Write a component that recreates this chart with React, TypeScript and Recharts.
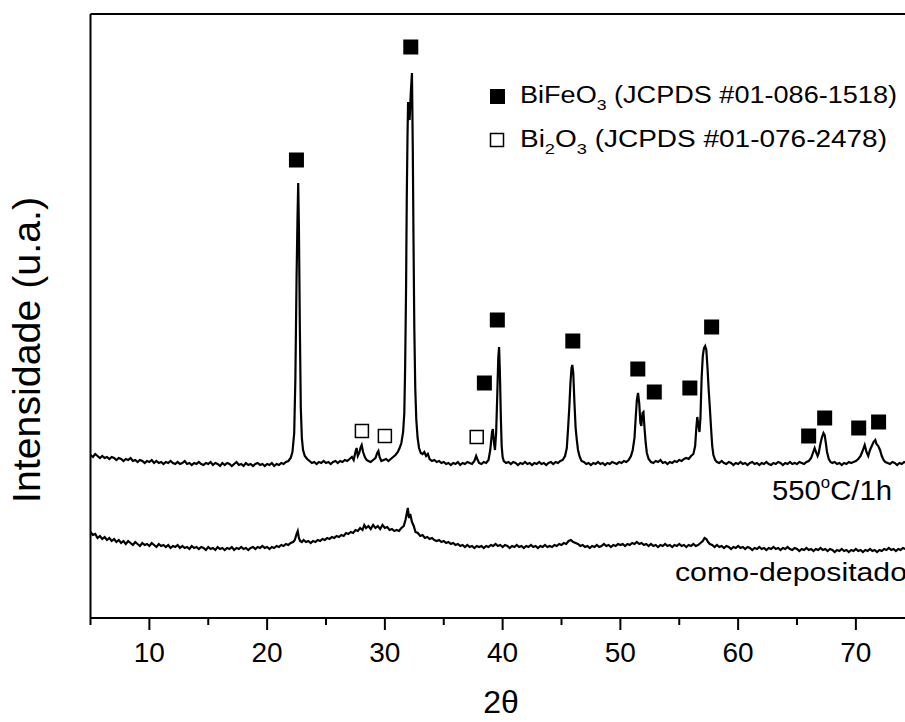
import React from 'react'
import { ComposedChart, Line, Scatter, XAxis, YAxis, ReferenceLine } from 'recharts'

// 2θ (deg) vs intensity (a.u.)
const annealed: [number, number][] = [
  [5.0,163],[5.2,161],[5.4,164],[5.6,162],[5.8,160],[6.0,162],[6.2,160],[6.4,161],[6.6,159],[6.8,161],
  [7.0,160],[7.2,158],[7.4,160],[7.6,159],[7.8,157],[8.0,159],[8.2,158],[8.4,160],[8.6,157],[8.8,158],
  [9.0,156],[9.2,158],[9.4,157],[9.6,155],[9.8,157],[10.0,156],[10.2,158],[10.4,155],[10.6,157],[10.8,155],
  [11.0,156],[11.2,154],[11.4,156],[11.6,155],[11.8,157],[12.0,155],[12.2,154],[12.4,156],[12.6,154],[12.8,155],
  [13.0,157],[13.2,154],[13.4,155],[13.6,153],[13.8,155],[14.0,154],[14.2,156],[14.4,154],[14.6,153],[14.8,155],
  [15.0,154],[15.2,156],[15.4,153],[15.6,155],[15.8,154],[16.0,152],[16.2,155],[16.4,153],[16.6,155],[16.8,154],
  [17.0,152],[17.2,154],[17.4,156],[17.6,153],[17.8,154],[18.0,152],[18.2,155],[18.4,153],[18.6,154],[18.8,152],
  [19.0,154],[19.2,155],[19.4,153],[19.6,154],[19.8,152],[20.0,154],[20.2,153],[20.4,155],[20.6,152],[20.8,154],
  [21.0,153],[21.2,155],[21.4,154],[21.6,156],[21.8,157],[22.0,160],[22.15,166],[22.3,185],[22.4,240],[22.5,340],
  [22.58,400],[22.64,435],[22.7,390],[22.78,290],[22.86,210],[22.95,180],[23.05,168],[23.2,162],[23.4,159],[23.6,157],
  [23.8,155],[24.0,156],[24.2,154],[24.4,156],[24.6,155],[24.8,157],[25.0,155],[25.2,156],[25.4,154],[25.6,156],
  [25.8,157],[26.0,155],[26.2,157],[26.4,156],[26.6,158],[26.8,157],[27.0,159],[27.2,161],[27.35,158],[27.5,166],
  [27.6,170],[27.7,162],[27.82,165],[27.95,171],[28.03,173],[28.15,166],[28.3,161],[28.45,158],[28.6,157],[28.8,156],
  [29.0,158],[29.2,160],[29.35,165],[29.45,167],[29.55,161],[29.7,157],[29.9,158],[30.1,159],[30.3,157],[30.5,159],
  [30.7,161],[30.9,163],[31.1,166],[31.25,170],[31.4,175],[31.55,186],[31.65,205],[31.72,250],[31.8,330],[31.86,420],
  [31.92,480],[31.97,516],[32.03,505],[32.1,498],[32.2,525],[32.3,545],[32.37,470],[32.43,380],[32.5,290],[32.58,230],
  [32.67,198],[32.78,180],[32.9,170],[33.05,165],[33.2,164],[33.35,166],[33.5,162],[33.65,164],[33.8,159],[34.0,157],
  [34.2,158],[34.4,156],[34.6,157],[34.8,155],[35.0,156],[35.2,154],[35.4,155],[35.6,153],[35.8,155],[36.0,154],
  [36.2,156],[36.4,153],[36.6,155],[36.8,154],[37.0,156],[37.2,155],[37.4,154],[37.6,157],[37.75,162],[37.85,159],
  [38.0,155],[38.2,154],[38.4,156],[38.6,155],[38.8,158],[38.95,168],[39.1,186],[39.17,189],[39.27,175],[39.35,168],
  [39.45,185],[39.55,225],[39.63,260],[39.7,271],[39.77,245],[39.85,200],[39.92,172],[40.0,161],[40.1,157],[40.3,155],
  [40.5,156],[40.7,154],[40.9,156],[41.1,155],[41.3,153],[41.5,155],[41.7,154],[41.9,156],[42.1,154],[42.3,155],
  [42.5,153],[42.7,155],[42.9,154],[43.1,156],[43.3,154],[43.5,155],[43.7,153],[43.9,155],[44.1,156],[44.3,154],
  [44.5,156],[44.7,155],[44.9,157],[45.1,158],[45.3,162],[45.45,170],[45.55,188],[45.66,210],[45.76,235],[45.85,250],
  [45.92,253],[46.0,245],[46.1,215],[46.2,190],[46.3,178],[46.4,168],[46.55,161],[46.7,157],[46.9,156],[47.1,154],
  [47.3,155],[47.5,153],[47.7,155],[47.9,154],[48.1,156],[48.3,154],[48.5,155],[48.7,153],[48.9,155],[49.1,154],
  [49.3,156],[49.5,155],[49.7,154],[49.9,156],[50.1,155],[50.3,157],[50.5,156],[50.7,158],[50.9,162],[51.05,168],
  [51.2,180],[51.3,200],[51.4,218],[51.5,225],[51.6,215],[51.7,195],[51.78,192],[51.88,205],[51.96,206],[52.05,190],
  [52.15,175],[52.25,165],[52.4,159],[52.6,156],[52.8,155],[53.0,157],[53.2,156],[53.4,158],[53.6,155],[53.8,156],
  [54.0,154],[54.2,156],[54.4,155],[54.6,157],[54.8,156],[55.0,158],[55.2,157],[55.4,159],[55.6,160],[55.8,159],
  [56.0,162],[56.2,164],[56.35,172],[56.45,190],[56.53,201],[56.62,193],[56.72,186],[56.8,200],[56.9,240],[57.0,262],
  [57.1,270],[57.2,272],[57.3,268],[57.4,250],[57.5,228],[57.6,210],[57.7,190],[57.8,172],[57.9,163],[58.05,158],
  [58.2,156],[58.4,155],[58.6,157],[58.8,155],[59.0,154],[59.2,156],[59.4,155],[59.6,153],[59.8,155],[60.0,154],
  [60.2,156],[60.4,154],[60.6,155],[60.8,153],[61.0,155],[61.2,156],[61.4,154],[61.6,155],[61.8,153],[62.0,155],
  [62.2,154],[62.4,156],[62.6,154],[62.8,153],[63.0,155],[63.2,154],[63.4,156],[63.6,155],[63.8,153],[64.0,155],
  [64.2,154],[64.4,156],[64.6,154],[64.8,155],[65.0,154],[65.2,156],[65.4,155],[65.6,154],[65.8,156],[66.0,157],
  [66.2,160],[66.35,165],[66.5,170],[66.62,166],[66.75,162],[66.85,165],[66.95,172],[67.1,180],[67.25,185],[67.35,183],
  [67.45,175],[67.55,166],[67.7,159],[67.85,156],[68.0,155],[68.2,156],[68.4,154],[68.6,155],[68.8,153],[69.0,155],
  [69.2,154],[69.4,156],[69.6,155],[69.8,156],[70.0,157],[70.2,159],[70.4,162],[70.6,168],[70.75,173],[70.9,166],
  [71.05,162],[71.2,168],[71.35,172],[71.5,176],[71.65,178],[71.75,174],[71.9,172],[72.05,168],[72.2,162],[72.35,158],
  [72.5,156],[72.7,155],[72.9,154],[73.1,156],[73.3,155],[73.5,153],[73.7,155],[73.9,154],[74.1,156],[74.3,155],
  [74.5,154],[74.7,155],[75.0,154],
]

const asDeposited: [number, number][] = [
  [5.0,86],[5.2,83],[5.4,84],[5.6,80],[5.8,82],[6.0,79],[6.2,81],[6.4,78],[6.6,80],[6.8,77],
  [7.0,79],[7.2,76],[7.4,78],[7.6,75],[7.8,77],[8.0,74],[8.2,77],[8.4,75],[8.6,73],[8.8,76],
  [9.0,74],[9.2,72],[9.4,75],[9.6,73],[9.8,74],[10.0,72],[10.2,75],[10.4,73],[10.6,71],[10.8,74],
  [11.0,72],[11.2,73],[11.4,71],[11.6,73],[11.8,70],[12.0,72],[12.2,71],[12.4,73],[12.6,70],[12.8,72],
  [13.0,70],[13.2,71],[13.4,69],[13.6,72],[13.8,70],[14.0,71],[14.2,69],[14.4,71],[14.6,70],[14.8,68],
  [15.0,71],[15.2,69],[15.4,70],[15.6,68],[15.8,71],[16.0,69],[16.2,70],[16.4,68],[16.6,70],[16.8,69],
  [17.0,71],[17.2,68],[17.4,70],[17.6,69],[17.8,71],[18.0,69],[18.2,70],[18.4,68],[18.6,70],[18.8,71],
  [19.0,69],[19.2,71],[19.4,70],[19.6,72],[19.8,70],[20.0,71],[20.2,69],[20.4,71],[20.6,70],[20.8,72],
  [21.0,71],[21.2,73],[21.4,72],[21.6,74],[21.8,73],[22.0,75],[22.2,76],[22.35,78],[22.5,84],[22.6,87],
  [22.7,80],[22.8,77],[22.95,76],[23.1,78],[23.3,76],[23.5,77],[23.7,75],[23.9,77],[24.1,76],[24.3,78],
  [24.5,77],[24.7,79],[24.9,78],[25.1,80],[25.3,79],[25.5,81],[25.7,80],[25.9,82],[26.1,81],[26.3,83],
  [26.5,82],[26.7,85],[26.9,84],[27.1,86],[27.3,85],[27.5,88],[27.7,87],[27.9,90],[28.1,88],[28.25,93],
  [28.4,90],[28.6,92],[28.8,89],[29.0,93],[29.2,90],[29.4,92],[29.6,89],[29.8,93],[30.0,90],[30.2,91],
  [30.4,88],[30.6,89],[30.8,87],[31.0,88],[31.2,87],[31.4,90],[31.6,92],[31.75,98],[31.85,104],[31.95,110],
  [32.05,100],[32.15,104],[32.3,96],[32.45,92],[32.6,86],[32.8,85],[33.0,82],[33.2,83],[33.4,80],[33.6,81],
  [33.8,79],[34.0,80],[34.2,78],[34.4,77],[34.6,78],[34.8,76],[35.0,77],[35.2,75],[35.4,76],[35.6,74],
  [35.8,75],[36.0,73],[36.2,74],[36.4,72],[36.6,73],[36.8,71],[37.0,73],[37.2,71],[37.4,72],[37.6,70],
  [37.8,72],[38.0,71],[38.2,72],[38.4,70],[38.6,72],[38.8,71],[39.0,73],[39.2,72],[39.4,74],[39.6,72],
  [39.8,73],[40.0,71],[40.2,73],[40.4,72],[40.6,70],[40.8,72],[41.0,71],[41.2,73],[41.4,71],[41.6,72],
  [41.8,70],[42.0,72],[42.2,71],[42.4,73],[42.6,71],[42.8,72],[43.0,70],[43.2,72],[43.4,71],[43.6,73],
  [43.8,71],[44.0,72],[44.2,71],[44.4,73],[44.6,72],[44.8,74],[45.0,73],[45.2,75],[45.4,74],[45.6,77],
  [45.8,78],[46.0,76],[46.2,75],[46.4,74],[46.6,72],[46.8,73],[47.0,71],[47.2,72],[47.4,70],[47.6,72],
  [47.8,71],[48.0,73],[48.2,71],[48.4,72],[48.6,74],[48.8,72],[49.0,73],[49.2,71],[49.4,73],[49.6,72],
  [49.8,74],[50.0,73],[50.2,74],[50.4,72],[50.6,74],[50.8,73],[51.0,75],[51.2,74],[51.4,76],[51.6,74],
  [51.8,75],[52.0,73],[52.2,74],[52.4,72],[52.6,74],[52.8,72],[53.0,73],[53.2,71],[53.4,73],[53.6,72],
  [53.8,74],[54.0,72],[54.2,73],[54.4,71],[54.6,73],[54.8,72],[55.0,74],[55.2,72],[55.4,73],[55.6,71],
  [55.8,73],[56.0,72],[56.2,74],[56.4,72],[56.6,73],[56.8,75],[57.0,77],[57.15,80],[57.3,79],[57.45,76],
  [57.6,74],[57.8,73],[58.0,71],[58.2,73],[58.4,71],[58.6,72],[58.8,70],[59.0,72],[59.2,71],[59.4,69],
  [59.6,71],[59.8,70],[60.0,72],[60.2,70],[60.4,71],[60.6,69],[60.8,71],[61.0,70],[61.2,68],[61.4,70],
  [61.6,69],[61.8,71],[62.0,69],[62.2,70],[62.4,68],[62.6,70],[62.8,69],[63.0,71],[63.2,69],[63.4,70],
  [63.6,68],[63.8,70],[64.0,69],[64.2,71],[64.4,69],[64.6,68],[64.8,70],[65.0,69],[65.2,67],[65.4,69],
  [65.6,68],[65.8,70],[66.0,68],[66.2,69],[66.4,67],[66.6,69],[66.8,68],[67.0,70],[67.2,68],[67.4,69],
  [67.6,67],[67.8,69],[68.0,68],[68.2,66],[68.4,68],[68.6,67],[68.8,69],[69.0,67],[69.2,68],[69.4,66],
  [69.6,68],[69.8,67],[70.0,69],[70.2,67],[70.4,68],[70.6,66],[70.8,68],[71.0,67],[71.2,69],[71.4,67],
  [71.6,68],[71.8,66],[72.0,68],[72.2,67],[72.4,69],[72.6,68],[72.8,70],[73.0,68],[73.2,69],[73.4,67],
  [73.6,69],[73.8,68],[74.0,70],[74.2,69],[74.4,70],[74.6,68],[74.8,70],[75.0,69],
]

// phase markers (2θ, marker height)
const bifeo3Marks: [number, number][] = [
  [22.49,458],[32.2,571],[38.45,235],[39.55,298],[45.96,277],[51.48,249],[52.88,226],
  [55.9,230],[57.75,291],[65.99,182],[67.35,200],[70.24,190],[71.93,196],
]
const bi2o3Marks: [number, number][] = [[28.05,187],[30.0,182],[37.8,181]]

const X_TICKS = [5, 10, 15, 20, 25, 30, 35, 40, 45, 50, 55, 60, 65, 70, 75]
const X_MIN = 5
const Y_MAX = 604

const toRows = (pts: [number, number][]) => pts.map(([x, y]) => ({ x, y }))

const FONT = "Arial, 'Liberation Sans', sans-serif"

function AxisTick(props: any) {
  const { x, y, payload } = props
  const major = payload.value % 10 === 0
  return (
    <g>
      <line x1={x} x2={x} y1={y} y2={y + (major ? 12 : 7)} stroke="#000" strokeWidth={2} />
      {major && payload.value < 75 && (
        <text x={x} y={y + 44} textAnchor="middle" fontSize={28} fontFamily={FONT} fill="#000">
          {payload.value}
        </text>
      )}
    </g>
  )
}

const filledSquare = (p: any) => <rect x={p.cx - 7.5} y={p.cy - 7.5} width={15} height={15} fill="#000" />
const openSquare = (p: any) => (
  <rect x={p.cx - 6.5} y={p.cy - 6.5} width={13} height={13} fill="#fff" stroke="#000" strokeWidth={1.5} />
)

export default function App() {
  return (
    <div style={{ position: 'fixed', left: 0, top: 0, width: 905, height: 722, overflow: 'hidden', background: '#fff' }}>
      <ComposedChart
        width={925}
        height={722}
        margin={{ top: 14, right: 10.25, left: 90.5, bottom: 0 }}
      >
        <XAxis
          dataKey="x"
          type="number"
          domain={[X_MIN, 75]}
          ticks={X_TICKS}
          allowDataOverflow
          height={104}
          tickSize={0}
          tickMargin={0}
          tickLine={false}
          tick={<AxisTick />}
          axisLine={{ stroke: '#000', strokeWidth: 2 }}
        />
        <YAxis type="number" domain={[0, Y_MAX]} width={0} tick={false} tickLine={false} axisLine={false} />
        <ReferenceLine y={Y_MAX} stroke="#000" strokeWidth={2} />
        <ReferenceLine x={X_MIN} stroke="#000" strokeWidth={2} />
        <Line data={toRows(annealed)} dataKey="y" type="linear" stroke="#000" strokeWidth={2.2}
          dot={false} activeDot={false} isAnimationActive={false} />
        <Line data={toRows(asDeposited)} dataKey="y" type="linear" stroke="#000" strokeWidth={2.2}
          dot={false} activeDot={false} isAnimationActive={false} />
        <Scatter data={toRows(bifeo3Marks)} dataKey="y" shape={filledSquare} isAnimationActive={false} />
        <Scatter data={toRows(bi2o3Marks)} dataKey="y" shape={openSquare} isAnimationActive={false} />

        {/* legend */}
        <rect x={490} y={89} width={15} height={15} fill="#000" />
        <text x={520} y={103} fontSize={23} fontFamily={FONT} textLength={377} lengthAdjust="spacingAndGlyphs">
          <tspan>BiFeO</tspan>
          <tspan dy={7} fontSize={15}>3</tspan>
          <tspan dy={-7}> (JCPDS #01-086-1518)</tspan>
        </text>
        <rect x={490.5} y={133.5} width={13} height={13} fill="#fff" stroke="#000" strokeWidth={1.5} />
        <text x={520} y={147} fontSize={23} fontFamily={FONT} textLength={367} lengthAdjust="spacingAndGlyphs">
          <tspan>Bi</tspan>
          <tspan dy={7} fontSize={15}>2</tspan>
          <tspan dy={-7}>O</tspan>
          <tspan dy={7} fontSize={15}>3</tspan>
          <tspan dy={-7}> (JCPDS #01-076-2478)</tspan>
        </text>

        {/* curve labels */}
        <text x={772} y={500} fontSize={28} fontFamily={FONT} textLength={120} lengthAdjust="spacingAndGlyphs">
          <tspan>550</tspan>
          <tspan dy={-12} fontSize={16}>o</tspan>
          <tspan dy={12}>C/1h</tspan>
        </text>
        <text x={675} y={581} fontSize={26} fontFamily={FONT} textLength={232} lengthAdjust="spacingAndGlyphs">
          como-depositado
        </text>

        {/* axis titles */}
        <text x={40} y={350} transform="rotate(-90 40 350)" textAnchor="middle" fontSize={38}
          fontFamily={FONT} textLength={306} lengthAdjust="spacingAndGlyphs">
          Intensidade (u.a.)
        </text>
        <text x={501} y={713} textAnchor="middle" fontSize={32} fontFamily={FONT}>2θ</text>
      </ComposedChart>
    </div>
  )
}
